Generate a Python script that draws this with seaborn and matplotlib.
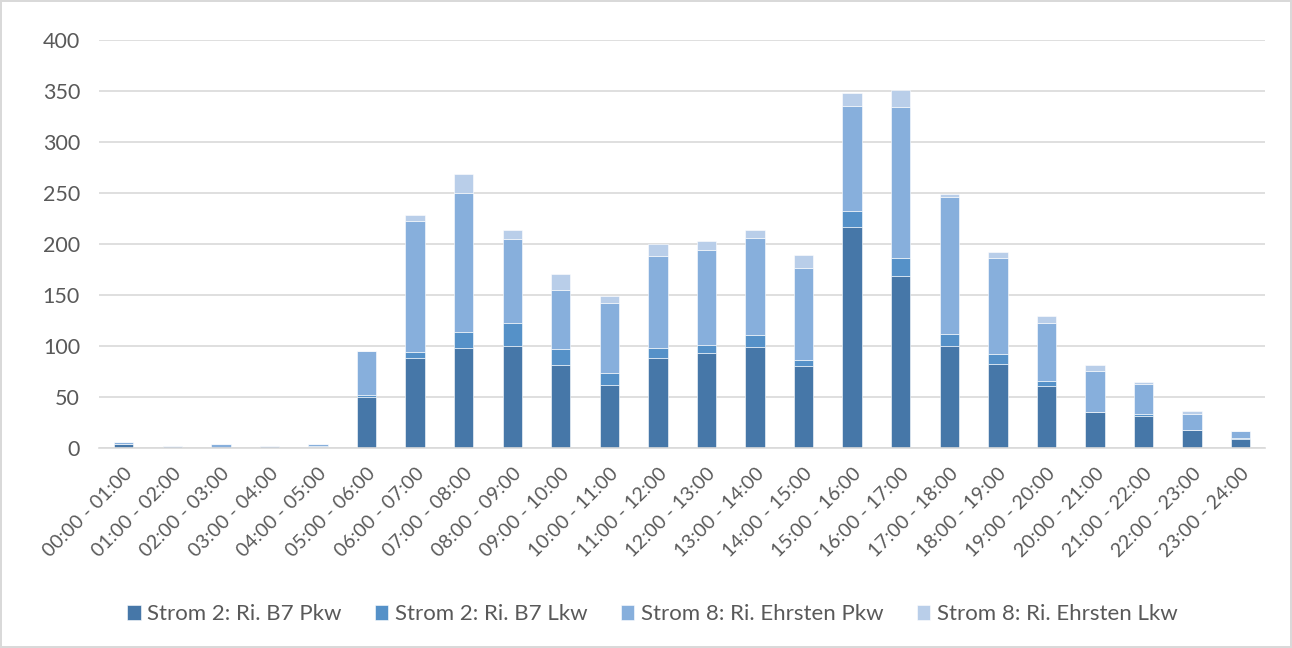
import numpy as np
import pandas as pd
import seaborn as sns
import matplotlib.pyplot as plt

# Stundenintervalle
hours = ["00:00 - 01:00", "01:00 - 02:00", "02:00 - 03:00", "03:00 - 04:00",
         "04:00 - 05:00", "05:00 - 06:00", "06:00 - 07:00", "07:00 - 08:00",
         "08:00 - 09:00", "09:00 - 10:00", "10:00 - 11:00", "11:00 - 12:00",
         "12:00 - 13:00", "13:00 - 14:00", "14:00 - 15:00", "15:00 - 16:00",
         "16:00 - 17:00", "17:00 - 18:00", "18:00 - 19:00", "19:00 - 20:00",
         "20:00 - 21:00", "21:00 - 22:00", "22:00 - 23:00", "23:00 - 24:00"]

b7_pkw = [4, 0, 0, 0, 1, 50, 88, 98, 100, 81, 62, 88,
          93, 99, 80, 217, 169, 100, 82, 61, 35, 31, 17, 9]
b7_lkw = [0, 0, 0, 0, 1, 2, 6, 16, 22, 16, 11, 10,
          8, 12, 6, 15, 17, 12, 10, 5, 0, 2, 0, 1]
ehr_pkw = [2, 2, 4, 2, 2, 43, 129, 136, 83, 58, 69, 90,
           93, 95, 90, 103, 148, 134, 94, 56, 40, 30, 16, 6]
ehr_lkw = [0, 0, 0, 0, 0, 0, 5, 19, 9, 16, 7, 12,
           9, 8, 13, 13, 17, 3, 6, 7, 6, 2, 3, 0]

series_names = ["Strom 2: Ri. B7 Pkw", "Strom 2: Ri. B7 Lkw",
                "Strom 8: Ri. Ehrsten Pkw", "Strom 8: Ri. Ehrsten Lkw"]
series_values = [b7_pkw, b7_lkw, ehr_pkw, ehr_lkw]
colors = ["#4677A8", "#5591C8", "#87AFDC", "#B9CEE9"]

sns.set_theme(style="white")
plt.rcParams['font.family'] = ['Lato', 'DejaVu Sans']
text_col = "#595959"

fig = plt.figure(figsize=(12.92, 6.48), dpi=100)
fig.patch.set_edgecolor("#D9D9D9")
fig.patch.set_linewidth(1.5)
ax = fig.add_axes([0.077, 0.309, 0.902, 0.629])

bottom = np.zeros(len(hours))
for name, vals, col in zip(series_names, series_values, colors):
    df = pd.DataFrame({"Stunde": hours, "Anzahl": vals})
    sns.barplot(data=df, x="Stunde", y="Anzahl", order=hours, color=col,
                width=0.4, bottom=bottom, label=name, ax=ax,
                edgecolor="white", linewidth=0.4, saturation=1)
    bottom = bottom + np.array(vals)

ax.set_ylim(0, 400)
ax.set_xlim(-0.5, len(hours) - 0.5)
ax.set_yticks(range(0, 401, 50))
ax.yaxis.grid(True, color="#D9D9D9", linewidth=1.2)
ax.set_axisbelow(True)
for s in ["top", "right", "left"]:
    ax.spines[s].set_visible(False)
ax.spines["bottom"].set_color("#D9D9D9")
ax.spines["bottom"].set_linewidth(1.2)
ax.set_xlabel("")
ax.set_ylabel("")
ax.tick_params(axis="y", length=0, labelsize=15.5, labelcolor=text_col, pad=14)
ax.tick_params(axis="x", length=0, labelsize=14, labelcolor=text_col, pad=12)
plt.setp(ax.get_xticklabels(), rotation=45, ha="right", rotation_mode="anchor")

if ax.get_legend():
    ax.get_legend().remove()
handles, labels = ax.get_legend_handles_labels()
leg = fig.legend(handles, labels, loc="center", bbox_to_anchor=(0.505, 0.052),
                 ncol=4, frameon=False, fontsize=16, handlelength=0.6,
                 handleheight=0.6, handletextpad=0.3, columnspacing=1.5)
for t in leg.get_texts():
    t.set_color(text_col)

fig.savefig("out.png", dpi=100)
